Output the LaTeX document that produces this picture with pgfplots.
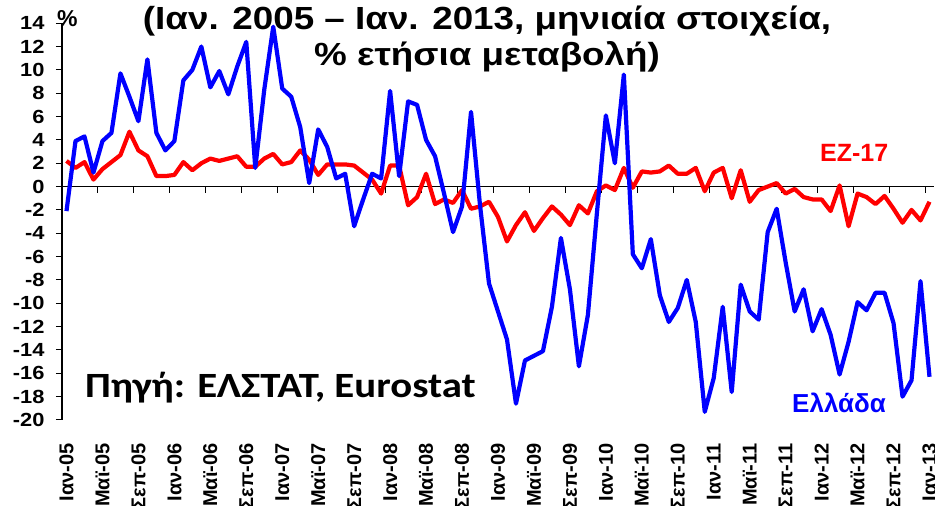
\documentclass[border=0pt]{standalone}
\usepackage{fontspec}
\setmainfont{Liberation Sans}[FakeStretch=1.15]
\newfontfamily\lib{Liberation Sans}
\newfontfamily\srcfont{Carlito}[FakeStretch=1.15]
\usepackage{pgfplots}
\usepackage{pgfplotstable}
\pgfplotsset{compat=1.18}
\definecolor{gblue}{RGB}{0,0,255}
\definecolor{ezred}{RGB}{255,0,0}

\pgfplotstableread{
i gr ez
0 -2.1 2.2
1 3.9 1.6
2 4.3 2.1
3 1.2 0.6
4 3.9 1.5
5 4.6 2.1
6 9.7 2.7
7 7.7 4.7
8 5.6 3.1
9 10.9 2.6
10 4.6 0.9
11 3.1 0.9
12 3.9 1.0
13 9.1 2.1
14 10.0 1.4
15 12.0 2.0
16 8.5 2.4
17 9.9 2.2
18 7.9 2.4
19 10.3 2.6
20 12.4 1.7
21 1.6 1.7
22 8.3 2.4
23 13.7 2.8
24 8.4 1.9
25 7.7 2.1
26 5.1 3.1
27 0.3 2.3
28 4.9 1.0
29 3.4 1.9
30 0.7 1.9
31 1.1 1.9
32 -3.4 1.8
33 -1.1 1.2
34 1.1 0.6
35 0.7 -0.6
36 8.2 1.8
37 0.9 1.8
38 7.3 -1.6
39 7.0 -0.9
40 4.0 1.1
41 2.6 -1.5
42 -0.6 -1.1
43 -3.9 -1.4
44 -1.7 -0.3
45 6.4 -1.9
46 -1.6 -1.7
47 -8.3 -1.3
48 -10.7 -2.6
49 -13.1 -4.7
50 -18.6 -3.3
51 -14.9 -2.2
52 -14.5 -3.8
53 -14.1 -2.7
54 -10.3 -1.7
55 -4.4 -2.4
56 -8.8 -3.3
57 -15.4 -1.6
58 -11.0 -2.3
59 -2.3 -0.4
60 6.1 0.1
61 2.0 -0.3
62 9.6 1.6
63 -5.8 -0.1
64 -7.0 1.3
65 -4.5 1.2
66 -9.3 1.3
67 -11.6 1.8
68 -10.4 1.1
69 -8.0 1.1
70 -11.6 1.6
71 -19.3 -0.4
72 -16.4 1.2
73 -10.3 1.6
74 -17.6 -1.0
75 -8.4 1.4
76 -10.7 -1.3
77 -11.4 -0.3
78 -3.9 0.0
79 -1.9 0.3
80 -6.5 -0.6
81 -10.7 -0.2
82 -8.8 -0.9
83 -12.4 -1.1
84 -10.5 -1.1
85 -12.7 -2.1
86 -16.1 0.1
87 -13.3 -3.4
88 -9.9 -0.6
89 -10.6 -0.9
90 -9.1 -1.5
91 -9.1 -0.8
92 -11.7 -1.9
93 -18.0 -3.1
94 -16.6 -2.0
95 -8.1 -2.9
96 -16.3 -1.3
}\data

\begin{document}
\begin{tikzpicture}
\begin{axis}[
  at={(0pt,0pt)}, anchor=south west,
  scale only axis, width=872pt, height=396.8pt,
  xmin=-0.5, xmax=96.5, ymin=-20, ymax=14,
  axis y line=left, axis x line=bottom,
  axis line style={-},
  x axis line style={draw=none},
  y axis line style={line width=1.2pt},
  ytick={-20,-18,...,14},
  tick align=outside,
  major tick length=6pt,
  y tick style={black, line width=1pt},
  x tick style={draw=none},
  xtick={0,4,...,96},
  xticklabels={Ιαν-05,Μαϊ-05,Σεπ-05,Ιαν-06,Μαϊ-06,Σεπ-06,Ιαν-07,Μαϊ-07,Σεπ-07,Ιαν-08,Μαϊ-08,Σεπ-08,Ιαν-09,Μαϊ-09,Σεπ-09,Ιαν-10,Μαϊ-10,Σεπ-10,Ιαν-11,Μαϊ-11,Σεπ-11,Ιαν-12,Μαϊ-12,Σεπ-12,Ιαν-13},
  xticklabel style={rotate=90, anchor=east, font=\fontsize{20}{20}\selectfont\lib\bfseries},
  xticklabel shift=14pt,
  yticklabel style={font=\fontsize{19}{19}\selectfont\bfseries, anchor=east},
  yticklabel shift=8pt,
  /pgf/number format/assume math mode=true,
  clip=false,
]
\draw[black, line width=1pt] (axis cs:-0.5,0) -- (axis cs:96.5,0);
\pgfplotsinvokeforeach{3.5,7.5,...,95.5}{\draw[black, line width=1pt] (axis cs:#1,0) -- ++(0pt,-6pt);}
\addplot[ezred, line width=4.2pt, line join=round, no marks] table[x=i, y=ez] {\data};
\addplot[gblue, line width=4.2pt, line join=round, no marks] table[x=i, y=gr] {\data};
\end{axis}
\node[anchor=base, font=\fontsize{32}{32}\selectfont\bfseries] at (425pt,390.5pt) {(Ιαν. 2005 – Ιαν. 2013, μηνιαία στοιχεία,};
\node[anchor=base, font=\fontsize{32}{32}\selectfont\bfseries] at (425pt,354pt) {\% ετήσια μεταβολή)};
\node[anchor=base west, font=\fontsize{23}{23}\selectfont\lib\bfseries, inner sep=0pt] at (-5pt,393pt) {\%};
\node[anchor=base west, font=\fontsize{25}{25}\selectfont\lib\bfseries, text=ezred, inner sep=0pt] at (758pt,258pt) {EZ-17};
\node[anchor=base west, font=\fontsize{26}{26}\selectfont\lib\bfseries, text=gblue, inner sep=0pt] at (730pt,7pt) {Ελλάδα};
\node[anchor=base west, font=\fontsize{35.5}{35.5}\selectfont\srcfont\bfseries, inner sep=0pt] at (23pt,22pt) {Πηγή: ΕΛΣΤΑΤ, Eurostat};
\pgfresetboundingbox
\path[use as bounding box] (-62pt,-86pt) rectangle (873pt,420pt);
\end{tikzpicture}
\end{document}
